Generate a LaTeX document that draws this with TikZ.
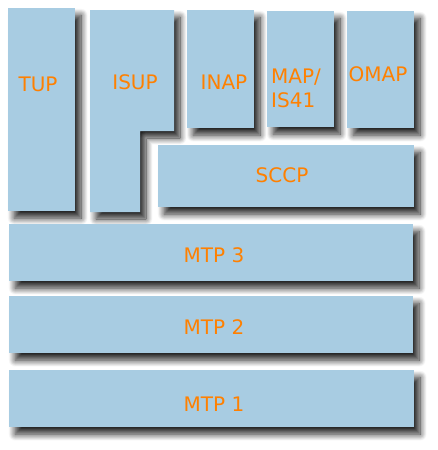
\documentclass[tikz,border=0pt]{standalone}
\usepackage{fontspec}
\setmainfont{DejaVu Sans}
\usetikzlibrary{shadows.blur}
\definecolor{boxfill}{HTML}{A8CCE2}
\definecolor{txt}{HTML}{FF8000}
\tikzset{softshadow/.style={blur shadow={shadow xshift=6pt, shadow yshift=-7pt, shadow blur radius=6.5pt, shadow blur steps=12, shadow opacity=85}}}
\begin{document}
\begin{tikzpicture}[x=1pt,y=-1pt,
  layer/.style={fill=boxfill, draw=none, inner sep=0pt, anchor=north west, softshadow},
  lbl/.style={text=txt, font=\fontsize{20}{24}\selectfont, inner sep=0pt}]
\useasboundingbox (0,0) rectangle (437,450);
% top column boxes
\node[layer, minimum width=67pt, minimum height=203pt] (tupbox) at (8,8) {};
\fill[boxfill, softshadow]
  (90,10) -- (174,10) -- (174,131) -- (140,131) -- (140,212) -- (90,212) -- cycle;
\node[layer, minimum width=67pt, minimum height=118pt] (inapbox) at (187,10) {};
\node[layer, minimum width=67pt, minimum height=116pt] (mapbox) at (267,11) {};
\node[layer, minimum width=67pt, minimum height=117pt] (omapbox) at (347,11) {};
\node[layer, minimum width=256pt, minimum height=62pt] (sccpbox) at (158,145) {};
\node[layer, minimum width=404pt, minimum height=57pt] (mtp3box) at (9,224) {};
\node[layer, minimum width=404pt, minimum height=57pt] (mtp2box) at (9,296) {};
\node[layer, minimum width=405pt, minimum height=57pt] (mtp1box) at (9,370) {};
% labels
\node[lbl] (tup) at (38,84) {TUP};
\node[lbl] (isup) at (135,82) {ISUP};
\node[lbl] (inap) at (224,82) {INAP};
\node[lbl, align=left, anchor=west] (map) at (271,88) {MAP/\\IS41};
\node[lbl] (omap) at (378,74) {OMAP};
\node[lbl] (sccp) at (282,175) {SCCP};
\node[lbl] (mtp3) at (214,255) {MTP 3};
\node[lbl] (mtp2) at (214,327) {MTP 2};
\node[lbl] (mtp1) at (214,404) {MTP 1};
\end{tikzpicture}
\end{document}
